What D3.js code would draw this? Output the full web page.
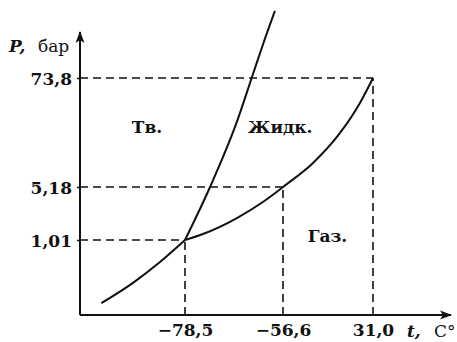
<!DOCTYPE html>
<html>
<head>
<meta charset="utf-8">
<script src="https://cdn.jsdelivr.net/npm/d3@7"></script>
<style>
  body { margin: 0; background: #fff; }
  svg { display: block; }
  text { font-family: "DejaVu Serif", serif; fill: #111; }
</style>
</head>
<body>
<svg></svg>
<script>
// tick values (°C and bar)
var tempTicks = [-78.5, -56.6, 31.0];
var pressTicks = [1.01, 5.18, 73.8];

// phase boundary curves, [t, P]
var sublimation = [[-103.6, 0.16], [-94.2, 0.43], [-86.1, 0.71], [-78.5, 1.01]];
var vaporization = [[-78.5, 1.01], [-74.5, 1.48], [-66.9, 2.74], [-61.1, 4.0], [-56.6, 5.18],
                    [-27.4, 20.3], [-1.1, 39.2], [18.3, 58.1], [31.0, 73.8]];
var melting = [[-78.5, 1.01], [-72.9, 5.18], [-67.0, 45.5], [-63.6, 73.8], [-61.0, 131], [-58.4, 185]];

// region labels
var regions = [
  { name: "Тв.", t: -89.9, P: 39 },
  { name: "Жидк.", t: -57.2, P: 39 },
  { name: "Газ.", t: -13.3, P: 0.98 }
];

var width = 457, height = 342;

var svg = d3.select("svg")
    .attr("width", width)
    .attr("height", height);

// schematic (non-linear) axes, piecewise scales
var xScale = d3.scaleLinear()
    .domain([-110, -78.5, -56.6, 31.0, 62])
    .range([80, 185, 283, 373, 451]);

var yScale = d3.scaleLinear()
    .domain([0, 1.01, 5.18, 73.8, 150])
    .range([315, 240, 187, 78, 32]);

var fmt = function(d) { return d3.format(".1f")(d).replace(".", ",").replace("-", "−"); };
var fmtP = function(d) { return String(d).replace(".", ","); };

var x0 = xScale.range()[0], y0 = yScale.range()[0];

svg.append("defs").append("marker")
    .attr("id", "arrow")
    .attr("viewBox", "-12 -6 14 12")
    .attr("refX", 0).attr("refY", 0)
    .attr("markerWidth", 14).attr("markerHeight", 12)
    .attr("markerUnits", "userSpaceOnUse")
    .attr("orient", "auto")
  .append("path")
    .attr("d", "M1,0 L-11,-4.5 L-8,0 L-11,4.5 Z")
    .attr("fill", "#111");

// dashed guide lines
var guides = svg.append("g")
    .attr("stroke", "#111")
    .attr("stroke-width", 1.6)
    .attr("stroke-dasharray", "8,5")
    .attr("fill", "none");

tempTicks.forEach(function(t, i) {
  var P = pressTicks[i];
  guides.append("line")
      .attr("x1", x0).attr("x2", xScale(t))
      .attr("y1", yScale(P)).attr("y2", yScale(P));
  guides.append("line")
      .attr("x1", xScale(t)).attr("x2", xScale(t))
      .attr("y1", y0).attr("y2", yScale(P));
});

// curves
var line = d3.line()
    .x(function(d) { return xScale(d[0]); })
    .y(function(d) { return yScale(d[1]); })
    .curve(d3.curveMonotoneX);

svg.selectAll(".curve")
    .data([sublimation, vaporization, melting])
  .enter().append("path")
    .attr("class", "curve")
    .attr("d", line)
    .attr("fill", "none")
    .attr("stroke", "#111")
    .attr("stroke-width", 2);

// axes
var xAxis = svg.append("g")
    .attr("transform", "translate(0," + y0 + ")")
    .call(d3.axisBottom(xScale).tickValues(tempTicks).tickSize(0).tickPadding(9).tickFormat(fmt));

var yAxis = svg.append("g")
    .attr("transform", "translate(" + x0 + ",0)")
    .call(d3.axisLeft(yScale).tickValues(pressTicks).tickSize(3).tickPadding(5).tickFormat(fmtP));

[xAxis, yAxis].forEach(function(a) {
  a.select(".domain").remove();
  a.selectAll(".tick line").attr("stroke", "#111").attr("stroke-width", 1.5);
  a.selectAll("text")
      .style("font-family", "'DejaVu Serif', serif")
      .style("font-size", "17px")
      .style("font-weight", "bold")
      .attr("fill", "#111");
});
xAxis.selectAll("text").attr("dy", "0.7em");
yAxis.selectAll("text").attr("dy", "0.36em");

svg.append("line")
    .attr("x1", x0).attr("y1", y0)
    .attr("x2", x0).attr("y2", yScale.range()[4])
    .attr("stroke", "#111").attr("stroke-width", 2)
    .attr("marker-end", "url(#arrow)");

svg.append("line")
    .attr("x1", x0).attr("y1", y0)
    .attr("x2", xScale.range()[4]).attr("y2", y0)
    .attr("stroke", "#111").attr("stroke-width", 2)
    .attr("marker-end", "url(#arrow)");

// axis titles
var yTitle = svg.append("text")
    .attr("x", 9).attr("y", 52)
    .style("font-size", "17px");
yTitle.append("tspan").text("P,").style("font-style", "italic").style("font-weight", "bold");
yTitle.append("tspan").attr("x", 38).text("бар");

var xTitle = svg.append("text")
    .attr("x", 407).attr("y", 337)
    .style("font-size", "17px");
xTitle.append("tspan").text("t,").style("font-style", "italic").style("font-weight", "bold");
xTitle.append("tspan").attr("x", 434).text("C°");

// region labels
svg.selectAll(".region")
    .data(regions)
  .enter().append("text")
    .attr("class", "region")
    .attr("x", function(d) { return xScale(d.t); })
    .attr("y", function(d) { return yScale(d.P); })
    .attr("text-anchor", "middle")
    .style("font-size", "17px")
    .style("font-weight", "bold")
    .text(function(d) { return d.name; });
</script>
</body>
</html>
